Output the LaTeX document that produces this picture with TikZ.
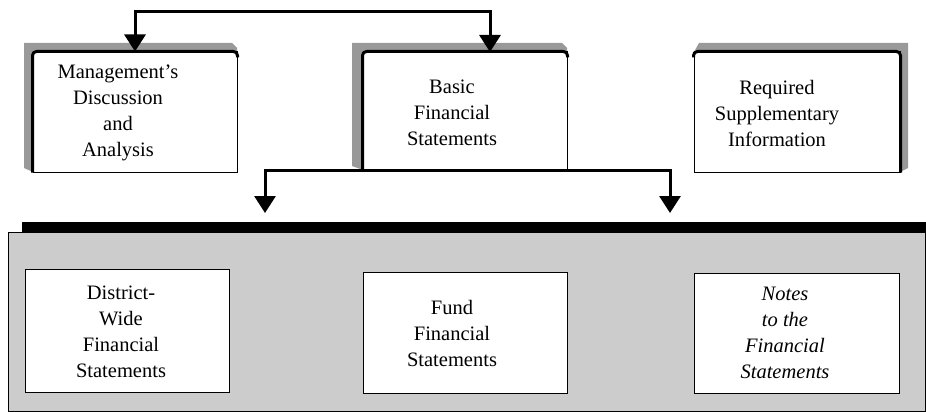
\documentclass[tikz,border=0pt]{standalone}
\usepackage{fontspec}
\setmainfont{Liberation Serif}
\usetikzlibrary{arrows.meta,calc}
\begin{document}
\begin{tikzpicture}[x=1pt,y=-1pt,
  face/.style={draw=black, line width=1pt, fill=white, inner sep=0pt},
  lbl/.style={font=\fontsize{20.5}{26}\selectfont, align=center, inner sep=0pt},
  bevel/.style={fill=black!40},
  rim/.style={line width=3pt, rounded corners=4pt, line join=round},
  conn/.style={line width=3pt, line join=miter, {Triangle[width=21pt,length=17pt]}-{Triangle[width=21pt,length=17pt]}}
]
\useasboundingbox (0,0) rectangle (926,412);

% ---- top row ----
\fill[bevel] (24,43) -- (232,43) -- (237,48) -- (237,52) -- (33,52) -- (33,172) -- (24,168) -- cycle;
\node[face, minimum width=204pt, minimum height=120pt] (mda) at (135,112) {};
\draw[rim] (mda.south west) -- (mda.north west) -- (mda.north east) -- ++(0,6);
\node[lbl] (mdat) at (118,113) {Management's\\Discussion\\and\\Analysis};

\fill[bevel] (352,43) -- (562,43) -- (567,48) -- (567,52) -- (363,52) -- (363,170) -- (352,166) -- cycle;
\node[face, minimum width=204pt, minimum height=118pt] (bfs) at (465,111) {};
\draw[rim] (bfs.south west) -- (bfs.north west) -- (bfs.north east) -- ++(0,6);
\node[lbl] (bfst) at (452,113) {Basic\\Financial\\Statements};

\fill[bevel] (699,43) -- (908,43) -- (908,168) -- (900,172) -- (900,52) -- (694,52) -- cycle;
\node[face, minimum width=206pt, minimum height=120pt] (rsi) at (797,112) {};
\draw[rim] ($(rsi.north west)+(0,6)$) -- (rsi.north west) -- (rsi.north east) -- (rsi.south east);
\node[lbl] (rsit) at (777,113) {Required\\Supplementary\\Information};

% ---- connectors ----
\coordinate (topc) at (300,12);
\coordinate (bfsIn) at (490,52);
\draw[conn] (mda.north) |- (topc) -| (bfsIn);
\coordinate (t1) at (265,213);
\coordinate (t2) at (670,213);
\draw[conn] (t1) |- (bfs.south) -| (t2);

% ---- lower container ----
\node[draw=black, line width=0.6pt, fill=black!20, minimum width=917pt, minimum height=179pt, inner sep=0pt] (cont) at (466.5,321.5) {};
\fill[black] (22,222) rectangle (926,232);

\node[face, minimum width=204pt, minimum height=123pt] (dw) at (127,330.5) {};
\node[lbl] (dwt) at (121,332) {District-\\Wide\\Financial\\Statements};

\node[face, minimum width=204pt, minimum height=121pt] (fund) at (465,332.5) {};
\node[lbl] (fundt) at (452,333) {Fund\\Financial\\Statements};

\node[face, minimum width=205pt, minimum height=120pt] (notes) at (796.5,333) {};
\node[lbl, font=\fontsize{20.5}{26}\selectfont\itshape] (notest) at (785,333) {Notes\\to the\\Financial\\Statements};
\end{tikzpicture}
\end{document}
